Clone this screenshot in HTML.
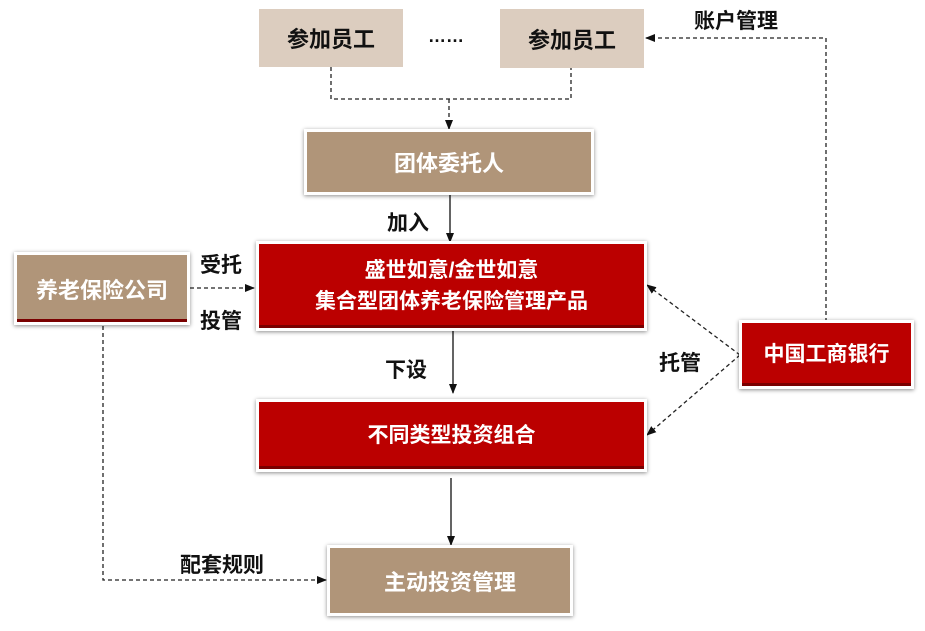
<!DOCTYPE html>
<html><head><meta charset="utf-8"><style>
body{margin:0;width:925px;height:631px;background:#fff;position:relative;overflow:hidden;font-family:"Liberation Sans","Noto Sans CJK SC",sans-serif;font-weight:bold}
.b{position:absolute;display:flex;align-items:center;justify-content:center;text-align:center;box-sizing:border-box}
.lt{background:#dccdbf;color:#111;font-size:22px}
.br{background:#b09579;color:#fff;font-size:22px;border:3px solid #fff;box-shadow:0 1px 4px rgba(0,0,0,.45)}
.rd{background:#bb0000;color:#fff;font-size:21px;border:3px solid #fff;box-shadow:0 1px 4px rgba(0,0,0,.45);line-height:31px}
.rd::after,.br2::after{content:"";position:absolute;left:0;right:0;bottom:0;height:3px;background:#7a0000}
.l{position:absolute;font-size:21px;color:#111}
svg{position:absolute;left:0;top:0}
</style></head><body>
<svg width="925" height="631">
<defs><marker id="a" markerWidth="10" markerHeight="10" refX="9" refY="5" orient="auto" markerUnits="userSpaceOnUse"><path d="M0,1 L10,5 L0,9Z" fill="#111"/></marker></defs>
<g stroke="#222" stroke-width="1.3" fill="none" stroke-dasharray="4,3">
<polyline points="331,67 331,99 571,99 571,68"/>
<line x1="449" y1="99" x2="449" y2="129" marker-end="url(#a)"/>
<polyline points="826,322 826,38 646,38" marker-end="url(#a)"/>
<line x1="190" y1="288" x2="254" y2="288" marker-end="url(#a)"/>
<line x1="740" y1="355" x2="647" y2="285" marker-end="url(#a)"/>
<line x1="740" y1="355" x2="647" y2="435" marker-end="url(#a)"/>
<polyline points="103,326 103,580 326,580" marker-end="url(#a)"/>
</g>
<g stroke="#111" stroke-width="1.3">
<line x1="450" y1="195" x2="450" y2="242" marker-end="url(#a)"/>
<line x1="453" y1="330" x2="453" y2="393" marker-end="url(#a)"/>
<line x1="451" y1="478" x2="451" y2="545" marker-end="url(#a)"/>
</g>
</svg>
<div class="b lt" style="left:259px;top:9px;width:144px;height:58px">参加员工</div>
<div class="l" style="left:428px;top:26px;font-size:18px">……</div>
<div class="b lt" style="left:500px;top:9px;width:144px;height:59px">参加员工</div>
<div class="l" style="left:694px;top:5px">账户管理</div>
<div class="b br" style="left:304px;top:129px;width:290px;height:66px">团体委托人</div>
<div class="l" style="left:387px;top:207px">加入</div>
<div class="b br br2" style="left:14px;top:252px;width:176px;height:73px">养老保险公司</div>
<div class="l" style="left:200px;top:249px">受托</div>
<div class="l" style="left:200px;top:305px">投管</div>
<div class="b rd" style="left:256px;top:241px;width:391px;height:90px">盛世如意/金世如意<br>集合型团体养老保险管理产品</div>
<div class="l" style="left:385px;top:354px">下设</div>
<div class="l" style="left:659px;top:347px">托管</div>
<div class="b rd" style="left:739px;top:320px;width:175px;height:69px">中国工商银行</div>
<div class="b rd" style="left:256px;top:399px;width:391px;height:73px">不同类型投资组合</div>
<div class="l" style="left:180px;top:549px">配套规则</div>
<div class="b br" style="left:327px;top:545px;width:246px;height:71px">主动投资管理</div>
</body></html>
